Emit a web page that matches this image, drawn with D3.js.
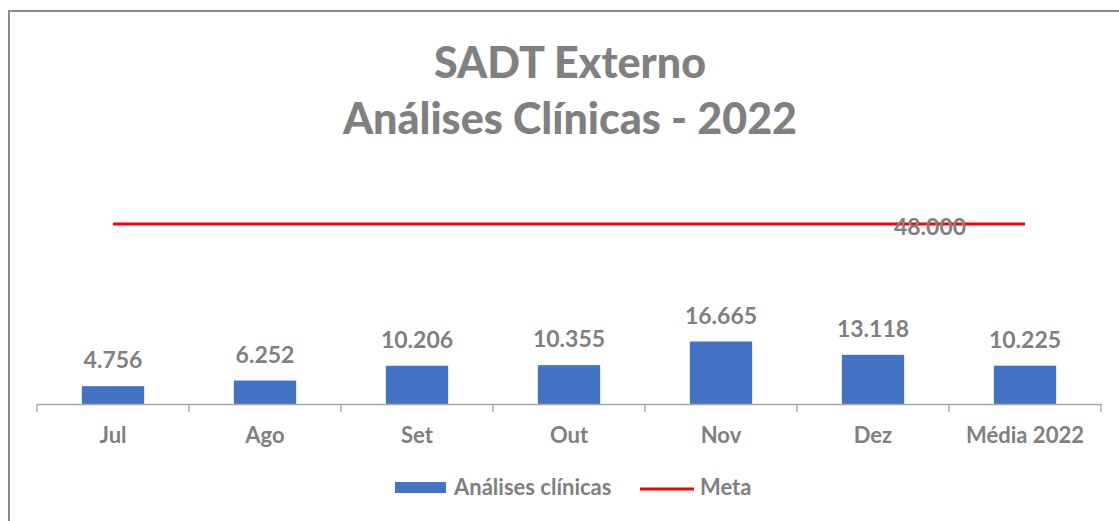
<!DOCTYPE html>
<html>
<head>
<meta charset="utf-8">
<script src="https://cdn.jsdelivr.net/npm/d3@7"></script>
<style>
  body { margin: 0; background: #fff; }
  svg { display: block; font-family: Lato, "Open Sans", sans-serif; }
</style>
</head>
<body>
<svg width="1119" height="521"></svg>
<script>
"use strict";

var categories = ["Jul", "Ago", "Set", "Out", "Nov", "Dez", "Média 2022"];
var analises = [4756, 6252, 10206, 10355, 16665, 13118, 10225];
var meta = [48000, 48000, 48000, 48000, 48000, 48000, 48000];
var titleLines = ["SADT Externo", "Análises Clínicas - 2022"];
var legendLabels = ["Análises clínicas", "Meta"];

var gray = "#808080";
var blue = "#4472C4";
var red = "#FF0000";

var fmt = function(v) { return d3.format(",")(v).replace(/,/g, "."); };

var svg = d3.select("svg");

// chart frame (runs off the right and bottom edges)
svg.append("path")
	.attr("d", "M9,530 L9,11 L1130,11")
	.attr("fill", "none")
	.attr("stroke", "#8c8c8c")
	.attr("stroke-width", 2);

var x = d3.scaleBand().domain(categories).range([37, 1101]).paddingInner(0.59).paddingOuter(0.295);
var xc = d3.scalePoint().domain(categories).range([37, 1101]).padding(0.5);
var y = d3.scaleLinear().domain([0, 48000]).range([404, 224]);

// title
svg.append("g").selectAll("text").data(titleLines).enter().append("text")
	.attr("x", 570)
	.attr("y", function(d, i) { return 78 + i * 56; })
	.attr("text-anchor", "middle")
	.attr("font-size", 43)
	.attr("font-weight", 900)
	.attr("fill", gray)
	.text(function(d) { return d; });

// bars
svg.append("g").selectAll("rect").data(analises).enter().append("rect")
	.attr("x", function(d, i) { return x(categories[i]); })
	.attr("y", function(d) { return y(d); })
	.attr("width", x.bandwidth())
	.attr("height", function(d) { return y(0) - y(d); })
	.attr("fill", blue);

// bar labels
svg.append("g").selectAll("text").data(analises).enter().append("text")
	.attr("x", function(d, i) { return xc(categories[i]); })
	.attr("y", function(d) { return y(d) - 18; })
	.attr("text-anchor", "middle")
	.attr("font-size", 23)
	.attr("font-weight", "bold")
	.attr("fill", gray)
	.text(function(d) { return fmt(d); });

// x axis
var axis = svg.append("g")
	.attr("transform", "translate(0," + y(0) + ")")
	.call(d3.axisBottom(x).tickSize(0).tickSizeOuter(0));
axis.attr("font-family", null).attr("font-size", null);
axis.select(".domain").attr("stroke", "#a6a6a6").attr("stroke-width", 1.3);
axis.selectAll(".tick text")
	.attr("font-size", 22)
	.attr("font-weight", "bold")
	.attr("fill", gray)
	.attr("dy", 0)
	.attr("y", 39);

var bounds = d3.range(categories.length + 1).map(function(i) { return 37 + i * x.step(); });
svg.append("g").selectAll("line").data(bounds).enter().append("line")
	.attr("x1", function(d) { return d; })
	.attr("x2", function(d) { return d; })
	.attr("y1", y(0))
	.attr("y2", y(0) + 8)
	.attr("stroke", "#a6a6a6")
	.attr("stroke-width", 1.3);

// meta line
var line = d3.line()
	.x(function(d, i) { return xc(categories[i]); })
	.y(function(d) { return y(d); });
svg.append("path")
	.datum(meta)
	.attr("d", line)
	.attr("fill", "none")
	.attr("stroke", red)
	.attr("stroke-width", 3);

svg.append("text")
	.attr("x", xc(categories[categories.length - 1]) - 95)
	.attr("y", y(meta[meta.length - 1]) + 11)
	.attr("text-anchor", "middle")
	.attr("font-size", 23)
	.attr("font-weight", "bold")
	.attr("fill", gray)
	.text(fmt(meta[meta.length - 1]));

// legend
var legend = svg.append("g");
legend.append("rect")
	.attr("x", 395).attr("y", 482).attr("width", 51).attr("height", 11)
	.attr("fill", blue);
legend.append("text")
	.attr("x", 454).attr("y", 495)
	.attr("font-size", 22).attr("font-weight", "bold").attr("fill", gray)
	.text(legendLabels[0]);
legend.append("line")
	.attr("x1", 640).attr("x2", 694).attr("y1", 489).attr("y2", 489)
	.attr("stroke", red).attr("stroke-width", 3);
legend.append("text")
	.attr("x", 700).attr("y", 495)
	.attr("font-size", 22).attr("font-weight", "bold").attr("fill", gray)
	.text(legendLabels[1]);
</script>
</body>
</html>
